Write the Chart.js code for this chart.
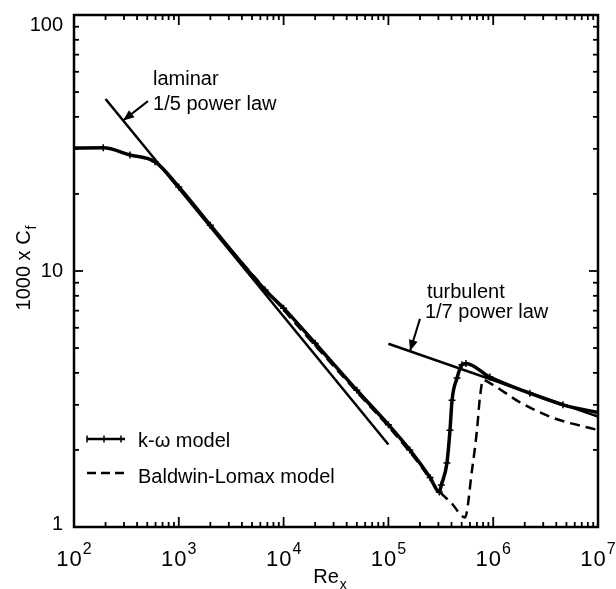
<!DOCTYPE html>
<html>
<head>
<meta charset="utf-8">
<title>Cf vs Rex</title>
<script src="https://cdn.jsdelivr.net/npm/chart.js@4.4.1/dist/chart.umd.min.js"></script>
<style>
  html, body { margin: 0; padding: 0; background: #fff; }
  #grafico { display: block; }
</style>
</head>
<body>
<canvas id="grafico" width="616" height="589"></canvas>
<script>
// Re_x en el eje x, 1000 x Cf en el eje y
let reLaminar = [200, 1e5];
let cfLaminar = [47, 2.1];

let reTurbulento = [1e5, 1e7];
let cfTurbulento = [5.2, 2.7];

let reKOmega = [100, 190, 342, 593, 1000, 2000, 6650, 1e4, 2e4, 5e4, 1e5, 1.6e5, 2.5e5, 3.06e5, 3.2e5, 3.62e5, 3.87e5, 4.05e5, 4.52e5, 5.03e5, 5.5e5, 9.3e5, 2.24e6, 4.63e6, 1e7];
let cfKOmega = [30.2, 30.3, 28.4, 26.7, 21.3, 15.1, 8.43, 7.16, 5.22, 3.42, 2.51, 2.0, 1.56, 1.37, 1.46, 1.78, 2.39, 3.13, 3.82, 4.30, 4.35, 3.85, 3.33, 3.0, 2.8];

let reBaldwin = [650, 1000, 2000, 1e4, 5e4, 1e5, 2e5, 3e5, 4e5, 5.38e5, 6.28e5, 7.0e5, 7.48e5, 8.0e5, 9.3e5, 1.8e6, 3.72e6, 1e7];
let cfBaldwin = [26.0, 21.1, 15.0, 7.05, 3.37, 2.47, 1.75, 1.39, 1.24, 1.09, 1.67, 2.39, 3.22, 3.75, 3.65, 3.07, 2.67, 2.39];

// ticks de los ejes
let decadasX = [1e2, 1e3, 1e4, 1e5, 1e6, 1e7];
let exponentesX = ["2", "3", "4", "5", "6", "7"];
let decadasY = [1, 10, 100];
let etiquetasY = ["1", "10", "100"];
let mantisas = [1, 2, 3, 4, 5, 6, 7, 8, 9];

const fuente = '"Liberation Sans", Arial, Helvetica, sans-serif';

function puntos(xs, ys) {
  return xs.map((x, i) => ({ x: x, y: ys[i] }));
}

function linea(ctx, x1, y1, x2, y2) {
  ctx.beginPath();
  ctx.moveTo(x1, y1);
  ctx.lineTo(x2, y2);
  ctx.stroke();
}

function flecha(ctx, x1, y1, x2, y2) {
  linea(ctx, x1, y1, x2, y2);
  const ang = Math.atan2(y2 - y1, x2 - x1);
  const largo = 11, ancho = 4.5;
  ctx.beginPath();
  ctx.moveTo(x2, y2);
  ctx.lineTo(x2 - largo * Math.cos(ang) + ancho * Math.sin(ang), y2 - largo * Math.sin(ang) - ancho * Math.cos(ang));
  ctx.lineTo(x2 - largo * Math.cos(ang) - ancho * Math.sin(ang), y2 - largo * Math.sin(ang) + ancho * Math.cos(ang));
  ctx.closePath();
  ctx.fill();
}

// texto con subindice, devuelve el ancho total
function textoSub(ctx, base, sub, x, y, tam) {
  ctx.font = tam + "px " + fuente;
  ctx.fillText(base, x, y);
  const w = ctx.measureText(base).width;
  ctx.font = Math.round(tam * 0.72) + "px " + fuente;
  ctx.fillText(sub, x + w + 1, y + 6);
  return w + 1 + ctx.measureText(sub).width;
}

const decoracion = {
  id: "decoracion",
  afterDatasetsDraw(chart) {
    const { ctx, chartArea: a, scales } = chart;
    const sx = scales.x, sy = scales.y;
    ctx.save();
    ctx.strokeStyle = "#000";
    ctx.fillStyle = "#000";
    ctx.lineCap = "butt";

    // marco
    ctx.lineWidth = 2.5;
    ctx.strokeRect(a.left, a.top, a.right - a.left, a.bottom - a.top);

    // ticks hacia adentro en los cuatro lados
    ctx.lineWidth = 1.8;
    for (const d of decadasX) {
      for (const m of mantisas) {
        const v = d * m;
        if (v > sx.max) continue;
        const x = sx.getPixelForValue(v);
        const l = m === 1 ? 10 : 5;
        linea(ctx, x, a.bottom, x, a.bottom - l);
        linea(ctx, x, a.top, x, a.top + l);
      }
    }
    for (const d of decadasY) {
      for (const m of mantisas) {
        const v = d * m;
        if (v > sy.max) continue;
        const y = sy.getPixelForValue(v);
        const l = m === 1 ? 9 : 5;
        linea(ctx, a.left, y, a.left + l, y);
        linea(ctx, a.right, y, a.right - l, y);
      }
    }

    // etiquetas eje x: 10 con exponente
    ctx.textBaseline = "alphabetic";
    ctx.textAlign = "left";
    decadasX.forEach((d, i) => {
      const x = sx.getPixelForValue(d);
      ctx.font = "22px " + fuente;
      const wb = ctx.measureText("10").width + 1;
      ctx.font = "16px " + fuente;
      const we = ctx.measureText(exponentesX[i]).width;
      const x0 = x - (wb + we + 1) / 2;
      ctx.font = "22px " + fuente;
      ctx.letterSpacing = "1px";
      ctx.fillText("10", x0, a.bottom + 39);
      ctx.letterSpacing = "0px";
      ctx.font = "16px " + fuente;
      ctx.fillText(exponentesX[i], x0 + wb + 1, a.bottom + 27);
    });

    // etiquetas eje y
    ctx.font = "20px " + fuente;
    ctx.textAlign = "right";
    ctx.textBaseline = "middle";
    decadasY.forEach((d, i) => {
      const y = Math.max(sy.getPixelForValue(d), a.top + 10);
      ctx.fillText(etiquetasY[i], a.left - 11, Math.min(y, a.bottom - 3));
    });

    // titulos de los ejes
    ctx.textAlign = "left";
    ctx.textBaseline = "alphabetic";
    ctx.save();
    ctx.font = "20px " + fuente;
    let w = ctx.measureText("1000 x C").width;
    ctx.font = "14px " + fuente;
    w += 1 + ctx.measureText("f").width;
    ctx.translate(30, (a.top + a.bottom) / 2 - 3);
    ctx.rotate(-Math.PI / 2);
    textoSub(ctx, "1000 x C", "f", -w / 2, 0, 20);
    ctx.restore();

    ctx.font = "20px " + fuente;
    let wr = ctx.measureText("Re").width;
    textoSub(ctx, "Re", "x", (a.left + a.right) / 2 - 14 - wr / 2 + 4, a.bottom + 56, 20);

    // leyenda
    const lx = a.left + 13;
    const ly1 = a.top + 424;
    const ly2 = a.top + 458;
    ctx.lineWidth = 2.5;
    linea(ctx, lx, ly1, lx + 38, ly1);
    ctx.lineWidth = 1.5;
    for (const dx of [0, 17, 34]) {
      linea(ctx, lx + dx, ly1 - 3.5, lx + dx, ly1 + 3.5);
    }
    ctx.lineWidth = 2.5;
    ctx.setLineDash([9, 5]);
    linea(ctx, lx, ly2, lx + 38, ly2);
    ctx.setLineDash([]);
    ctx.font = "20px " + fuente;
    ctx.fillText("k-\u03c9 model", lx + 51, ly1 + 8);
    ctx.fillText("Baldwin-Lomax model", lx + 51, ly2 + 10);

    // anotaciones de las leyes de potencia
    const p = (re, cf) => [sx.getPixelForValue(re), sy.getPixelForValue(cf)];
    ctx.lineWidth = 2;
    let t = p(508, 46.1), c = p(294, 38.7);
    flecha(ctx, t[0], t[1], c[0], c[1]);
    let q = p(568, 53.4);
    ctx.fillText("laminar", q[0], q[1]);
    q = p(568, 42.5);
    ctx.fillText("1/5 power law", q[0], q[1]);

    t = p(2.0e5, 6.5); c = p(1.61e5, 4.87);
    flecha(ctx, t[0], t[1], c[0], c[1]);
    q = p(2.33e5, 7.85);
    ctx.fillText("turbulent", q[0], q[1]);
    q = p(2.23e5, 6.55);
    ctx.fillText("1/7 power law", q[0], q[1]);

    ctx.restore();
  }
};

const grafico = new Chart(document.querySelector("#grafico"), {
  type: "line",
  data: {
    datasets: [
      {
        label: "laminar",
        data: puntos(reLaminar, cfLaminar),
        borderColor: "#000",
        borderWidth: 2.5,
        pointRadius: 0,
      },
      {
        label: "turbulent",
        data: puntos(reTurbulento, cfTurbulento),
        borderColor: "#000",
        borderWidth: 2.5,
        pointRadius: 0,
      },
      {
        label: "Baldwin-Lomax model",
        data: puntos(reBaldwin, cfBaldwin),
        borderColor: "#000",
        borderWidth: 2.5,
        borderDash: [10, 6],
        pointRadius: 0,
        cubicInterpolationMode: "monotone",
      },
      {
        label: "k-\u03c9 model",
        data: puntos(reKOmega, cfKOmega),
        borderColor: "#000",
        borderWidth: 3.5,
        pointStyle: "cross",
        pointRadius: 3.5,
        pointBorderWidth: 1.5,
        pointBorderColor: "#000",
        cubicInterpolationMode: "monotone",
      },
    ],
  },
  options: {
    responsive: false,
    animation: false,
    layout: { padding: { left: 74, top: 15, right: 18, bottom: 62 } },
    plugins: {
      legend: { display: false },
      tooltip: { enabled: false },
    },
    scales: {
      x: {
        type: "logarithmic",
        min: 100,
        max: 1e7,
        display: false,
      },
      y: {
        type: "logarithmic",
        min: 1,
        max: 100,
        display: false,
      },
    },
  },
  plugins: [decoracion],
});
</script>
</body>
</html>
